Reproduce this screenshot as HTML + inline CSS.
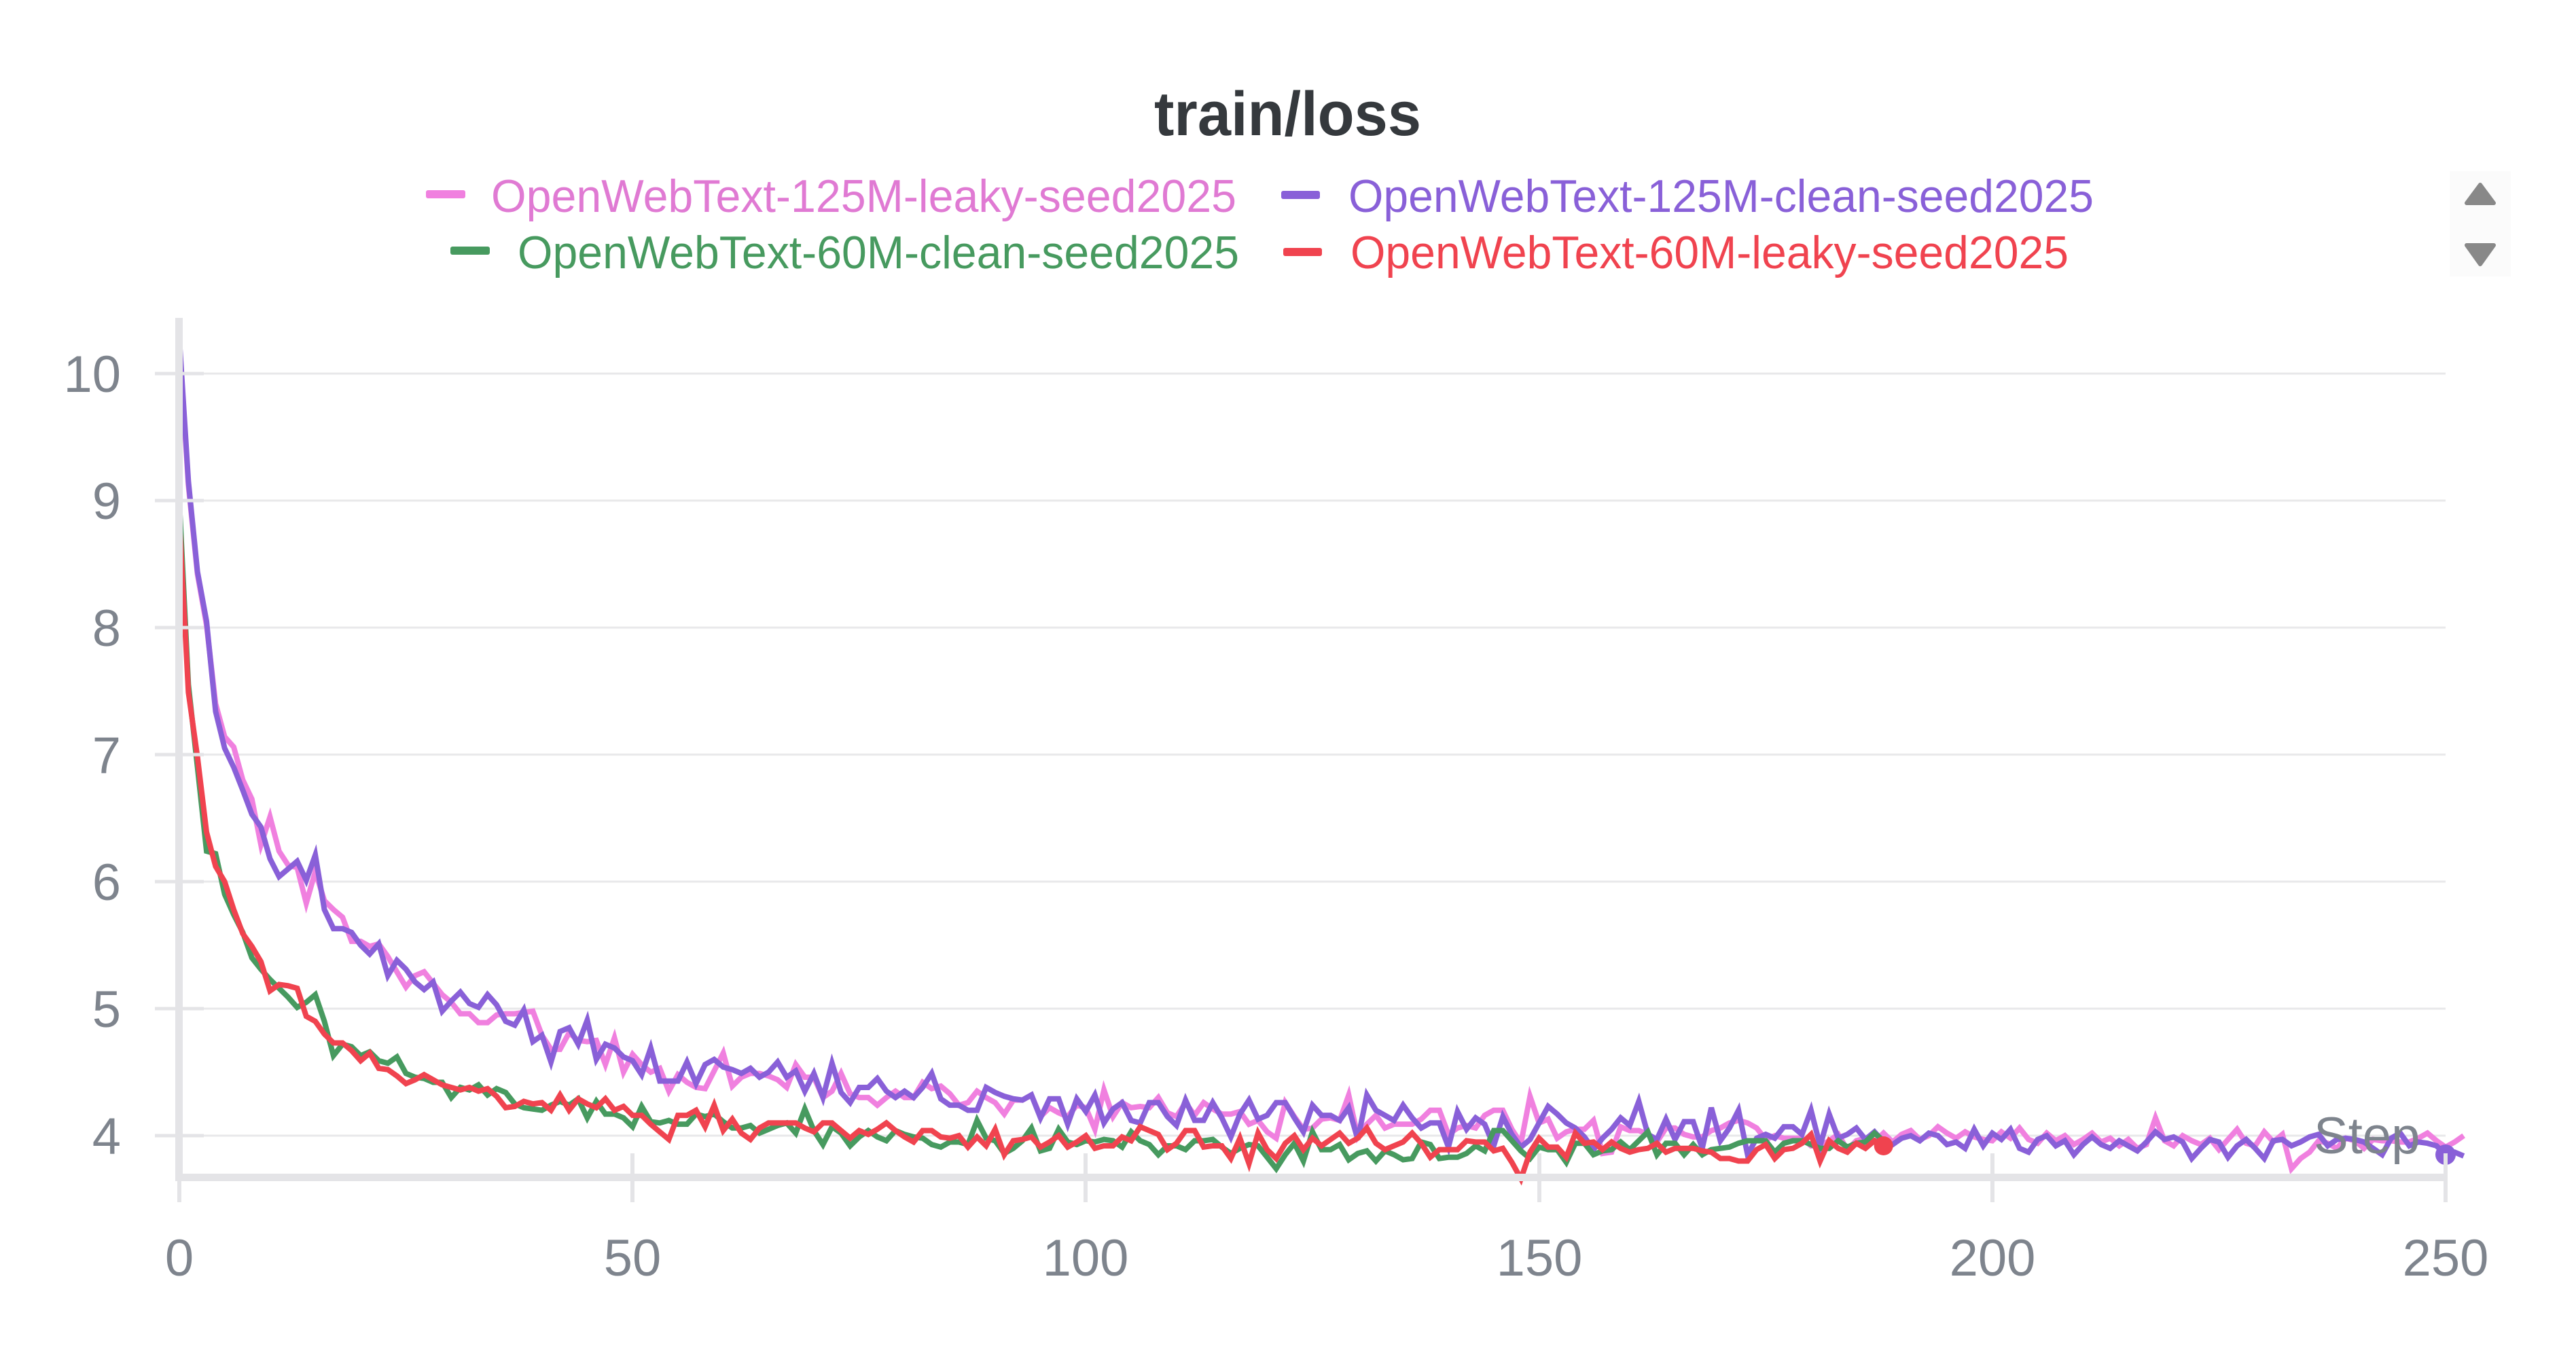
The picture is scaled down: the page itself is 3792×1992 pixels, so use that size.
<!DOCTYPE html>
<html>
<head>
<meta charset="utf-8">
<style>
  html,body{margin:0;padding:0;background:#fff;}
  svg{display:block;}
  text{font-family:"Liberation Sans",sans-serif;}
</style>
</head>
<body>
<svg width="3792" height="1992" viewBox="0 0 3792 1992" xmlns="http://www.w3.org/2000/svg">
  <rect x="0" y="0" width="3792" height="1992" fill="#ffffff"/>

  <!-- Title -->
  <text x="1699" y="199" font-size="92" font-weight="bold" fill="#35393d" textLength="393" lengthAdjust="spacingAndGlyphs">train/loss</text>

  <!-- Legend -->
  <rect x="627" y="280" width="58" height="12" rx="3" fill="#f080df"/>
  <text x="723" y="312" font-size="68" fill="#e07ad3" textLength="1097" lengthAdjust="spacingAndGlyphs">OpenWebText-125M-leaky-seed2025</text>
  <rect x="1886" y="281" width="57" height="12" rx="3" fill="#8960d8"/>
  <text x="1985" y="312" font-size="68" fill="#8960d8" textLength="1097" lengthAdjust="spacingAndGlyphs">OpenWebText-125M-clean-seed2025</text>
  <rect x="663" y="363" width="58" height="12" rx="3" fill="#479a5f"/>
  <text x="762" y="395" font-size="68" fill="#479a5f" textLength="1062" lengthAdjust="spacingAndGlyphs">OpenWebText-60M-clean-seed2025</text>
  <rect x="1889" y="365" width="57" height="12" rx="3" fill="#f0434f"/>
  <text x="1988" y="395" font-size="68" fill="#f0434f" textLength="1057" lengthAdjust="spacingAndGlyphs">OpenWebText-60M-leaky-seed2025</text>

  <!-- Scroll arrows -->
  <rect x="3606" y="252" width="90" height="155" fill="#fbfbfb"/>
  <polygon points="3651,272 3631,299 3671,299" fill="#888888" stroke="#888888" stroke-width="6" stroke-linejoin="round"/>
  <polygon points="3631,361 3671,361 3651,389" fill="#888888" stroke="#888888" stroke-width="6" stroke-linejoin="round"/>

  <!-- Gridlines -->
  <g fill="#e8e8ea">
    <rect x="264" y="548.5" width="3336" height="3"/>
    <rect x="264" y="735.5" width="3336" height="3"/>
    <rect x="264" y="922.5" width="3336" height="3"/>
    <rect x="264" y="1109.5" width="3336" height="3"/>
    <rect x="264" y="1296.5" width="3336" height="3"/>
    <rect x="264" y="1483.5" width="3336" height="3"/>
    <rect x="264" y="1670.5" width="3336" height="3"/>
  </g>

  <!-- Series -->
  <g fill="none" stroke-width="8" stroke-linejoin="miter" stroke-miterlimit="4" transform="matrix(13.344 0 0 -187 264 2420)">
    <polyline vector-effect="non-scaling-stroke" stroke="#f080df" points="0,10.25 1,9.12 2,8.42 3,8.02 4,7.40 5,7.14 6,7.06 7,6.80 8,6.65 9,6.29 10,6.51 11,6.24 12,6.13 13,6.11 14,5.83 15,6.08 16,5.85 17,5.78 18,5.72 19,5.53 20,5.53 21,5.49 22,5.51 23,5.41 24,5.29 25,5.17 26,5.26 27,5.29 28,5.20 29,5.11 30,5.05 31,4.96 32,4.96 33,4.89 34,4.89 35,4.95 36,4.96 37,4.96 38,4.97 39,4.98 40,4.79 41,4.68 42,4.68 43,4.81 44,4.75 45,4.74 46,4.75 47,4.56 48,4.77 49,4.50 50,4.64 51,4.56 52,4.50 53,4.53 54,4.35 55,4.48 56,4.42 57,4.38 58,4.37 59,4.51 60,4.65 61,4.39 62,4.46 63,4.49 64,4.49 65,4.47 66,4.44 67,4.38 68,4.56 69,4.46 70,4.46 71,4.30 72,4.35 73,4.49 74,4.33 75,4.30 76,4.30 77,4.24 78,4.30 79,4.35 80,4.30 81,4.30 82,4.42 83,4.37 84,4.39 85,4.33 86,4.24 87,4.26 88,4.35 89,4.30 90,4.26 91,4.17 92,4.28 93,4.28 94,4.32 95,4.15 96,4.22 97,4.18 98,4.15 99,4.24 100,4.22 101,4.05 102,4.36 103,4.15 104,4.26 105,4.22 106,4.23 107,4.22 108,4.30 109,4.18 110,4.15 111,4.26 112,4.16 113,4.26 114,4.21 115,4.17 116,4.17 117,4.19 118,4.09 119,4.12 120,4.03 121,3.98 122,4.26 123,4.15 124,4.05 125,4.06 126,4.13 127,4.14 128,4.12 129,4.32 130,3.99 131,4.09 132,4.16 133,4.06 134,4.09 135,4.09 136,4.09 137,4.13 138,4.20 139,4.20 140,4.01 141,4.06 142,4.08 143,4.06 144,4.16 145,4.20 146,4.20 147,4.05 148,3.94 149,4.31 150,4.10 151,4.13 152,3.98 153,4.03 154,4.05 155,4.05 156,4.12 157,3.86 158,3.87 159,4.07 160,4.04 161,4.04 162,4.01 163,3.95 164,4.06 165,4.06 166,4.01 167,3.99 168,3.99 169,4.04 170,4.06 171,4.10 172,4.12 173,4.10 174,4.06 175,3.97 176,4.00 177,3.98 178,3.98 179,3.98 180,3.92 181,3.92 182,3.96 183,4.01 184,3.89 185,3.96 186,3.98 187,3.95 188,4.02 189,3.95 190,4.01 191,4.04 192,3.97 193,4.00 194,4.07 195,4.02 196,3.98 197,4.03 198,3.99 199,3.97 200,3.96 201,4.03 202,3.98 203,4.06 204,3.97 205,3.94 206,4.02 207,3.96 208,4.00 209,3.93 210,3.97 211,4.02 212,3.95 213,3.98 214,3.92 215,3.97 216,3.90 217,3.93 218,4.14 219,3.96 220,3.92 221,4.00 222,3.96 223,3.93 224,3.98 225,3.89 226,3.97 227,4.05 228,3.94 229,3.92 230,4.03 231,3.95 232,4.01 233,3.74 234,3.82 235,3.87 236,3.96 237,3.94 238,3.90 239,3.98 240,3.96 241,3.90 242,3.97 243,3.96 244,3.96 245,3.95 246,3.95 247,3.98 248,4.02 249,3.96 250,3.91 251,3.95 252,4.00"/>
    <polyline vector-effect="non-scaling-stroke" stroke="#8960d8" points="0,10.28 1,9.15 2,8.44 3,8.05 4,7.34 5,7.05 6,6.90 7,6.72 8,6.53 9,6.43 10,6.18 11,6.04 12,6.10 13,6.16 14,6.01 15,6.21 16,5.78 17,5.63 18,5.63 19,5.60 20,5.50 21,5.43 22,5.51 23,5.26 24,5.38 25,5.31 26,5.21 27,5.15 28,5.21 29,4.98 30,5.06 31,5.13 32,5.04 33,5.01 34,5.11 35,5.03 36,4.90 37,4.87 38,4.99 39,4.74 40,4.79 41,4.58 42,4.82 43,4.85 44,4.72 45,4.91 46,4.60 47,4.72 48,4.69 49,4.62 50,4.59 51,4.48 52,4.69 53,4.43 54,4.43 55,4.43 56,4.58 57,4.41 58,4.56 59,4.60 60,4.54 61,4.52 62,4.49 63,4.53 64,4.46 65,4.50 66,4.58 67,4.46 68,4.51 69,4.35 70,4.49 71,4.30 72,4.57 73,4.34 74,4.26 75,4.38 76,4.38 77,4.45 78,4.35 79,4.30 80,4.35 81,4.30 82,4.38 83,4.49 84,4.29 85,4.24 86,4.24 87,4.20 88,4.20 89,4.38 90,4.34 91,4.31 92,4.29 93,4.28 94,4.32 95,4.14 96,4.29 97,4.29 98,4.09 99,4.29 100,4.19 101,4.32 102,4.10 103,4.21 104,4.26 105,4.12 106,4.10 107,4.26 108,4.26 109,4.15 110,4.08 111,4.28 112,4.12 113,4.12 114,4.26 115,4.14 116,3.99 117,4.17 118,4.28 119,4.13 120,4.16 121,4.26 122,4.26 123,4.14 124,4.03 125,4.24 126,4.16 127,4.16 128,4.12 129,4.22 130,3.97 131,4.32 132,4.20 133,4.16 134,4.12 135,4.24 136,4.14 137,4.06 138,4.10 139,4.10 140,3.91 141,4.19 142,4.05 143,4.14 144,4.09 145,3.92 146,4.15 147,4.01 148,3.91 149,3.97 150,4.10 151,4.23 152,4.17 153,4.10 154,4.06 155,3.99 156,3.89 157,3.98 158,4.05 159,4.14 160,4.08 161,4.27 162,4.01 163,3.97 164,4.13 165,3.97 166,4.11 167,4.11 168,3.90 169,4.22 170,3.96 171,4.06 172,4.20 173,3.85 174,3.98 175,4.01 176,3.98 177,4.07 178,4.07 179,4.01 180,4.20 181,3.92 182,4.17 183,3.98 184,4.01 185,4.06 186,3.97 187,4.03 188,3.95 189,3.93 190,3.98 191,4.00 192,3.96 193,4.02 194,4.00 195,3.93 196,3.95 197,3.90 198,4.05 199,3.92 200,4.02 201,3.97 202,4.05 203,3.90 204,3.87 205,3.97 206,4.00 207,3.92 208,3.96 209,3.85 210,3.93 211,3.99 212,3.93 213,3.90 214,3.96 215,3.92 216,3.88 217,3.95 218,4.03 219,3.97 220,3.99 221,3.95 222,3.82 223,3.90 224,3.97 225,3.95 226,3.83 227,3.92 228,3.97 229,3.90 230,3.82 231,3.96 232,3.97 233,3.92 234,3.95 235,3.99 236,4.01 237,3.92 238,3.97 239,3.98 240,3.97 241,3.95 242,3.90 243,3.85 244,3.98 245,4.02 246,3.92 247,3.95 248,3.94 249,3.92 250,3.85 251,3.87 252,3.84"/>
    <polyline vector-effect="non-scaling-stroke" stroke="#479a5f" points="0,9.00 1,7.55 2,6.90 3,6.24 4,6.22 5,5.90 6,5.74 7,5.60 8,5.40 9,5.31 10,5.23 11,5.16 12,5.09 13,5.01 14,5.05 15,5.11 16,4.90 17,4.63 18,4.72 19,4.70 20,4.63 21,4.66 22,4.59 23,4.57 24,4.62 25,4.49 26,4.46 27,4.45 28,4.42 29,4.42 30,4.30 31,4.38 32,4.36 33,4.40 34,4.32 35,4.37 36,4.34 37,4.25 38,4.22 39,4.21 40,4.20 41,4.24 42,4.27 43,4.24 44,4.29 45,4.14 46,4.27 47,4.17 48,4.17 49,4.14 50,4.07 51,4.23 52,4.11 53,4.10 54,4.12 55,4.09 56,4.09 57,4.17 58,4.15 59,4.17 60,4.11 61,4.06 62,4.06 63,4.08 64,4.02 65,4.05 66,4.08 67,4.10 68,4.02 69,4.21 70,4.04 71,3.93 72,4.07 73,4.02 74,3.92 75,3.99 76,4.04 77,3.99 78,3.96 79,4.04 80,4.01 81,3.99 82,3.98 83,3.93 84,3.91 85,3.95 86,3.95 87,3.93 88,4.12 89,3.98 90,3.96 91,3.86 92,3.90 93,3.96 94,4.06 95,3.88 96,3.90 97,4.05 98,3.95 99,3.93 100,3.96 101,3.95 102,3.97 103,3.96 104,3.91 105,4.03 106,3.96 107,3.93 108,3.85 109,3.92 110,3.92 111,3.89 112,3.96 113,3.96 114,3.97 115,3.91 116,3.86 117,3.90 118,3.93 119,3.92 120,3.83 121,3.74 122,3.85 123,3.94 124,3.80 125,4.03 126,3.89 127,3.89 128,3.93 129,3.81 130,3.86 131,3.88 132,3.80 133,3.88 134,3.85 135,3.81 136,3.82 137,3.95 138,3.93 139,3.82 140,3.83 141,3.83 142,3.86 143,3.92 144,3.88 145,4.04 146,4.04 147,3.96 148,3.88 149,3.82 150,3.91 151,3.89 152,3.89 153,3.79 154,3.94 155,3.94 156,3.85 157,3.88 158,3.89 159,3.95 160,3.89 161,3.96 162,4.03 163,3.85 164,3.94 165,3.94 166,3.85 167,3.93 168,3.85 169,3.89 170,3.90 171,3.91 172,3.94 173,3.96 174,3.96 175,3.96 176,3.87 177,3.94 178,3.96 179,3.96 180,3.93 181,3.90 182,3.90 183,3.96 184,3.91 185,3.94 186,3.95 187,4.02 188,3.96"/>
    <polyline vector-effect="non-scaling-stroke" stroke="#f0434f" points="0,8.85 1,7.49 2,6.98 3,6.39 4,6.12 5,6.00 6,5.78 7,5.59 8,5.49 9,5.37 10,5.14 11,5.19 12,5.18 13,5.16 14,4.94 15,4.90 16,4.80 17,4.73 18,4.73 19,4.67 20,4.59 21,4.65 22,4.53 23,4.52 24,4.47 25,4.41 26,4.44 27,4.48 28,4.44 29,4.40 30,4.38 31,4.36 32,4.38 33,4.35 34,4.37 35,4.31 36,4.22 37,4.23 38,4.27 39,4.25 40,4.26 41,4.20 42,4.32 43,4.20 44,4.29 45,4.25 46,4.22 47,4.29 48,4.20 49,4.23 50,4.16 51,4.16 52,4.09 53,4.03 54,3.97 55,4.16 56,4.16 57,4.20 58,4.07 59,4.24 60,4.04 61,4.13 62,4.02 63,3.97 64,4.06 65,4.10 66,4.10 67,4.10 68,4.10 69,4.06 70,4.03 71,4.10 72,4.10 73,4.04 74,3.98 75,4.04 76,4.01 77,4.05 78,4.10 79,4.04 80,3.99 81,3.95 82,4.04 83,4.04 84,3.99 85,3.98 86,4.00 87,3.91 88,3.99 89,3.92 90,4.05 91,3.85 92,3.96 93,3.97 94,3.99 95,3.91 96,3.95 97,4.00 98,3.91 99,3.95 100,4.00 101,3.90 102,3.92 103,3.92 104,3.99 105,3.96 106,4.07 107,4.04 108,4.01 109,3.89 110,3.94 111,4.04 112,4.04 113,3.91 114,3.92 115,3.92 116,3.82 117,3.98 118,3.78 119,4.02 120,3.89 121,3.82 122,3.94 123,4.00 124,3.89 125,3.98 126,3.92 127,3.97 128,4.02 129,3.94 130,3.98 131,4.06 132,3.94 133,3.89 134,3.92 135,3.95 136,4.02 137,3.94 138,3.83 139,3.89 140,3.89 141,3.89 142,3.96 143,3.95 144,3.95 145,3.88 146,3.90 147,3.79 148,3.66 149,3.87 150,3.98 151,3.91 152,3.91 153,3.83 154,4.02 155,3.94 156,3.95 157,3.89 158,3.95 159,3.90 160,3.87 161,3.89 162,3.90 163,3.94 164,3.87 165,3.90 166,3.90 167,3.90 168,3.88 169,3.87 170,3.82 171,3.82 172,3.80 173,3.80 174,3.89 175,3.93 176,3.82 177,3.89 178,3.90 179,3.94 180,4.01 181,3.80 182,3.96 183,3.90 184,3.87 185,3.94 186,3.90 187,3.96 188,3.92"/>
  </g>
  <!-- end markers -->
  <circle cx="2772.7" cy="1687" r="14" fill="#f0434f"/>
  <circle cx="3600" cy="1700" r="15" fill="#8960d8"/>

  <!-- Axes -->
  <g fill="#e4e4e7">
    <rect x="258" y="468" width="11" height="1271"/>
    <rect x="258" y="1728" width="3342" height="11"/>
    <!-- y ticks -->
    <rect x="228" y="547.5" width="72" height="5"/>
    <rect x="228" y="734.5" width="72" height="5"/>
    <rect x="228" y="921.5" width="72" height="5"/>
    <rect x="228" y="1108.5" width="72" height="5"/>
    <rect x="228" y="1295.5" width="72" height="5"/>
    <rect x="228" y="1482.5" width="72" height="5"/>
    <rect x="228" y="1669.5" width="72" height="5"/>
    <!-- x ticks -->
    <rect x="261" y="1698" width="6" height="72"/>
    <rect x="928" y="1698" width="6" height="72"/>
    <rect x="1595" y="1698" width="6" height="72"/>
    <rect x="2263" y="1698" width="6" height="72"/>
    <rect x="2930" y="1698" width="6" height="72"/>
    <rect x="3597" y="1698" width="6" height="72"/>
  </g>

  <!-- Y labels -->
  <g font-size="76" fill="#7e848d" text-anchor="end">
    <text x="178" y="577">10</text>
    <text x="178" y="764">9</text>
    <text x="178" y="951">8</text>
    <text x="178" y="1138">7</text>
    <text x="178" y="1325">6</text>
    <text x="178" y="1512">5</text>
    <text x="178" y="1699">4</text>
  </g>
  <!-- X labels -->
  <g font-size="76" fill="#7e848d" text-anchor="middle">
    <text x="264" y="1878">0</text>
    <text x="931" y="1878">50</text>
    <text x="1598" y="1878">100</text>
    <text x="2266" y="1878">150</text>
    <text x="2933" y="1878">200</text>
    <text x="3600" y="1878">250</text>
  </g>
  <text x="3406" y="1698" font-size="76" fill="#7e848d">Step</text>
</svg>
</body>
</html>
